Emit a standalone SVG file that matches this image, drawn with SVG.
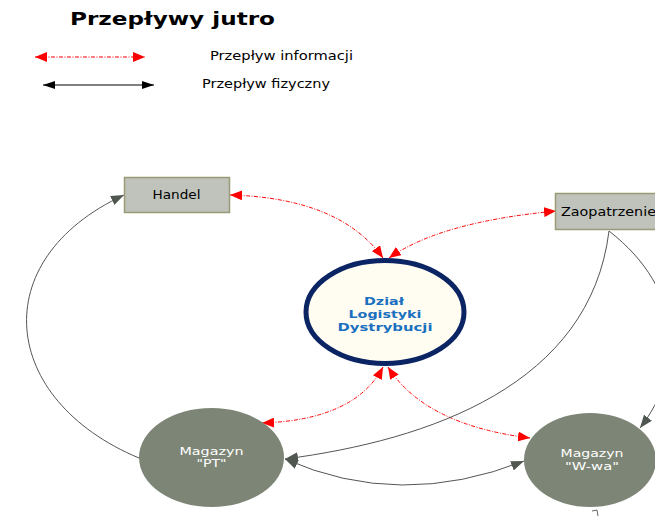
<svg xmlns="http://www.w3.org/2000/svg" width="655" height="516" viewBox="0 0 655 516">
<style>
.t{font-family:"DejaVu Sans","Verdana",sans-serif;font-size:11.5px;fill:#000}
.info{fill:none;stroke:#ff0000;stroke-width:1;stroke-dasharray:4 1.5 1 1.5}
.phys{fill:none;stroke:#555555;stroke-width:1}
.box{fill:#bfc3bb;stroke:#9a9a77;stroke-width:1.5}
.mag{fill:#7d8676}
.mt{font-family:"DejaVu Sans","Verdana",sans-serif;font-size:10.5px;fill:#ffffff;text-anchor:middle}
.ct{font-family:"DejaVu Sans","Verdana",sans-serif;font-size:11px;font-weight:bold;fill:#1a70c0;text-anchor:middle}
</style>
<defs>
<marker id="ra" viewBox="0 0 12 10" refX="12" refY="5" markerWidth="12" markerHeight="10" markerUnits="userSpaceOnUse" orient="auto-start-reverse"><path d="M0 0L12 5L0 10z" fill="#ff0000"/></marker>
<marker id="ga" viewBox="0 0 13 10" refX="13" refY="5" markerWidth="13" markerHeight="10" markerUnits="userSpaceOnUse" orient="auto-start-reverse"><path d="M0 0L13 5L0 10z" fill="#4f5750"/></marker>
<marker id="ba" viewBox="0 0 12 8" refX="12" refY="4" markerWidth="12" markerHeight="8" markerUnits="userSpaceOnUse" orient="auto-start-reverse"><path d="M0 0L12 4L0 8z" fill="#000"/></marker>
</defs>
<g id="title"><text x="70" y="25" font-family="DejaVu Sans,Verdana,sans-serif" font-size="17" font-weight="bold" textLength="205" lengthAdjust="spacingAndGlyphs">Przepływy jutro</text></g>
<g id="legend">
<line class="info" x1="35" y1="57" x2="145" y2="57" marker-start="url(#ra)" marker-end="url(#ra)"/>
<text class="t" x="210" y="60" textLength="143" lengthAdjust="spacingAndGlyphs">Przepływ informacji</text>
<line x1="43" y1="85" x2="154" y2="85" stroke="#000" stroke-width="1" marker-start="url(#ba)" marker-end="url(#ba)"/>
<text class="t" x="202" y="88" textLength="128" lengthAdjust="spacingAndGlyphs">Przepływ fizyczny</text>
</g>
<g id="connectors">
<path class="info" d="M230 195 Q340 198 383 258" marker-start="url(#ra)" marker-end="url(#ra)"/>
<path class="info" d="M389 258 Q440 222 556 211" marker-start="url(#ra)" marker-end="url(#ra)"/>
<path class="info" d="M383 367 Q355 420 262 423" marker-start="url(#ra)" marker-end="url(#ra)"/>
<path class="info" d="M388 367 Q425 425 530 438" marker-start="url(#ra)" marker-end="url(#ra)"/>
<path class="phys" d="M139 458 C0 400 -16 260 124 195" marker-end="url(#ga)"/>
<path class="phys" d="M609 231 C590 385 430 440 285 459" marker-end="url(#ga)"/>
<path class="phys" d="M609 231 C685 290 685 370 640 428" marker-end="url(#ga)"/>
<path class="phys" d="M285 459 Q400 510 524 461" marker-start="url(#ga)" marker-end="url(#ga)"/>
</g>
<g id="handel">
<rect class="box" x="124.5" y="177.5" width="105" height="35"/>
<text class="t" x="152.5" y="199" textLength="48" lengthAdjust="spacingAndGlyphs">Handel</text>
</g>
<g id="zaopatrzenie">
<rect class="box" x="555.5" y="193.5" width="105" height="36"/>
<text class="t" x="561" y="216" textLength="95" lengthAdjust="spacingAndGlyphs">Zaopatrzenie</text>
</g>
<g id="dzial">
<ellipse cx="385" cy="312" rx="79" ry="51.5" fill="#fffcf2" stroke="#0b2463" stroke-width="5"/>
<text class="ct" x="384" y="305" textLength="40" lengthAdjust="spacingAndGlyphs">Dział</text>
<text class="ct" x="385" y="317.5" textLength="73" lengthAdjust="spacingAndGlyphs">Logistyki</text>
<text class="ct" x="385" y="330.5" textLength="95" lengthAdjust="spacingAndGlyphs">Dystrybucji</text>
</g>
<g id="magazyn-pt">
<ellipse class="mag" cx="211.5" cy="457.5" rx="72.5" ry="49.5"/>
<text class="mt" x="211.5" y="455" textLength="64" lengthAdjust="spacingAndGlyphs">Magazyn</text>
<text class="mt" x="211.5" y="467" textLength="30" lengthAdjust="spacingAndGlyphs">"PT"</text>
</g>
<g id="magazyn-wwa">
<ellipse class="mag" cx="590" cy="460" rx="66" ry="47"/>
<text class="mt" x="592" y="457" textLength="63" lengthAdjust="spacingAndGlyphs">Magazyn</text>
<text class="mt" x="592" y="470" textLength="54" lengthAdjust="spacingAndGlyphs">"W-wa"</text>
</g>
<path d="M592 511 L597 510 L598 516" fill="none" stroke="#666" stroke-width="1"/>
</svg>
